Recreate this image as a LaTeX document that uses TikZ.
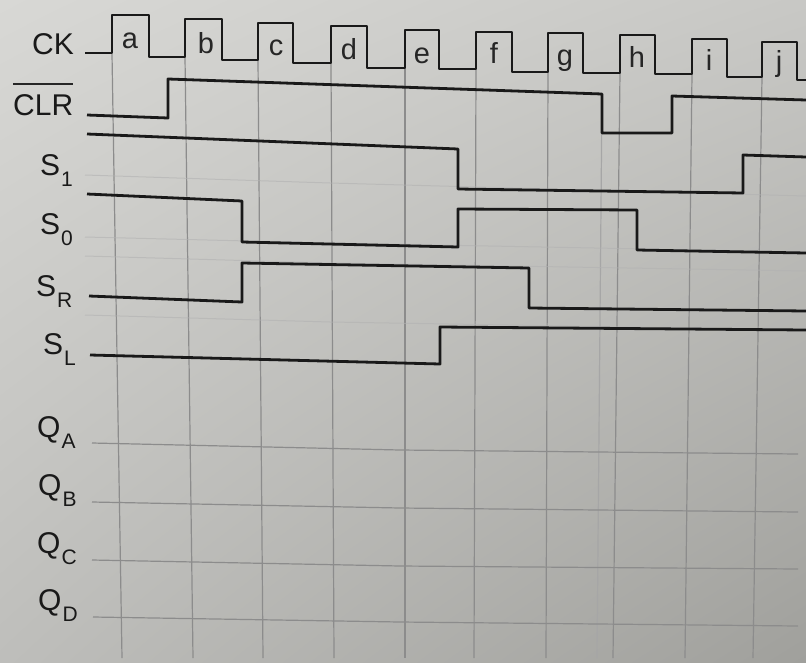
\documentclass[tikz,border=0pt]{standalone}
\usepackage{fontspec}
\setmainfont{Liberation Sans}
\usetikzlibrary{shadings}
\definecolor{paperul}{RGB}{216,216,213}
\definecolor{paperur}{RGB}{200,200,197}
\definecolor{paperll}{RGB}{190,190,187}
\definecolor{paperlr}{RGB}{160,160,156}
\newcommand{\lowidx}[1]{%
  % subscript set well below the baseline
  \kern1pt\raisebox{-11pt}{\fontsize{21}{21}\selectfont #1}}
\tikzset{
  wave/.style={line width=2.8pt, draw=black!90, line join=round},
  gridline/.style={line width=1.2pt, draw=black!45},
  faintline/.style={line width=1pt, draw=black!30, opacity=0.6},
  signame/.style={font=\fontsize{30}{30}\selectfont, text=black!90, inner sep=0pt, anchor=base west},
  pulsename/.style={font=\fontsize{29}{29}\selectfont, text=black!85, inner sep=0pt, anchor=base}
}

\begin{document}
\begin{tikzpicture}[x=1pt, y=-1pt]
\useasboundingbox (0, 0) rectangle (806, 662);
\shade[upper left=paperul, upper right=paperur, lower left=paperll, lower right=paperlr] (0, 0) rectangle (806, 662);

% vertical grid lines, one per clock pulse
\foreach \top/\bot/\from in {112/122/54, 185/193/57, 258/263/60, 331/334/63, 405/405/68, 476/474/69, 548/546/72, 620/613/73, 692/685/74, 762/753/77}
  \draw[gridline] (\top, \from) -- (\bot, 658);
\draw[gridline, draw=black!35] (602, 94) -- (597, 658);

% faint guide lines between the control rows
\draw[faintline] (85, 175) -- (330, 183) -- (806, 196);
\draw[faintline] (85, 237) -- (330, 243) -- (806, 252);
\draw[faintline] (85, 256) -- (330, 263) -- (806, 271);
\draw[faintline] (85, 315) -- (330, 322) -- (806, 330);

% output rows
\draw[gridline] (92, 443) -- (400, 450) -- (798, 454);
\draw[gridline] (92, 502) -- (400, 508) -- (798, 512);
\draw[gridline] (92, 560) -- (400, 566) -- (798, 569);
\draw[gridline] (93, 617) -- (400, 622) -- (798, 626);

% clock
\draw[wave] (85, 53) foreach \r/\h/\f/\l in {112/15/149/57, 185/19/222/60, 258/23/293/63, 331/26/367/68, 405/30/439/69, 476/32/512/72, 548/33/583/73, 620/35/655/74, 692/39/727/77, 762/42/797/80} { -| (\r, \h) -- (\f, \h) -- (\f, \l) } -- (806, 80);
\foreach \t/\x/\y in {a/130/48, b/206/53, c/276/55, d/349/59, e/422/63, f/494/63, g/565/65, h/637/67, i/709/70, j/779/71}
  \node[pulsename] (pulse-\t) at (\x, \y) {\t};

% control inputs
\draw[wave] (87, 115) -- (168, 118) -- (168, 79) -- (602, 94) -- (602, 133) -- (672, 133) -- (672, 96) -- (806, 100);
\draw[wave] (87, 134) -- (458, 149) -- (458, 189) -- (743, 193) -- (743, 155) -- (806, 157);
\draw[wave] (87, 194) -- (242, 201) -- (242, 242) -- (458, 247) -- (458, 209) -- (637, 210) -- (637, 250) -- (806, 253);
\draw[wave] (89, 296) -- (242, 302) -- (242, 263) -- (529, 268) -- (529, 308) -- (806, 311);
\draw[wave] (90, 355) -- (440, 364) -- (440, 327) -- (806, 330);

% row names
\node[signame] (ck) at (32, 54) {CK};
\node[signame] (clr) at (13, 115) {CLR};
\draw[line width=2pt, draw=black!85] ([yshift=10pt]clr.north west) -- ([yshift=10pt]clr.north east);
\node[signame] (s1) at (40, 175) {S\lowidx{1}};
\node[signame] (s0) at (40, 234) {S\lowidx{0}};
\node[signame] (sr) at (36, 296) {S\lowidx{R}};
\node[signame] (sl) at (43, 354) {S\lowidx{L}};
\node[signame] (qa) at (37, 437) {Q\lowidx{A}};
\node[signame] (qb) at (38, 495) {Q\lowidx{B}};
\node[signame] (qc) at (37, 553) {Q\lowidx{C}};
\node[signame] (qd) at (38, 610) {Q\lowidx{D}};
\end{tikzpicture}
\end{document}
